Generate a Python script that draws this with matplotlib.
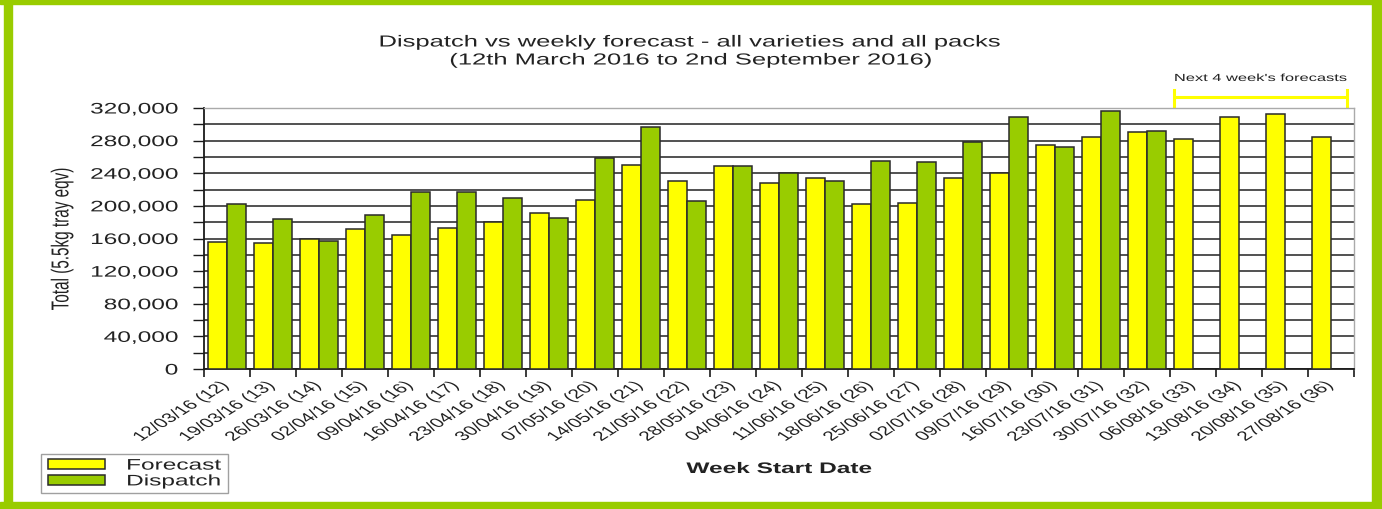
import matplotlib
matplotlib.use("Agg")
import matplotlib.pyplot as plt
from matplotlib.patches import Rectangle
from matplotlib.patheffects import AbstractPathEffect
from matplotlib.transforms import Affine2D
from matplotlib.ticker import MultipleLocator, FuncFormatter, FixedLocator
import numpy as np

weeks = ["12/03/16 (12)", "19/03/16 (13)", "26/03/16 (14)", "02/04/16 (15)", "09/04/16 (16)",
         "16/04/16 (17)", "23/04/16 (18)", "30/04/16 (19)", "07/05/16 (20)", "14/05/16 (21)",
         "21/05/16 (22)", "28/05/16 (23)", "04/06/16 (24)", "11/06/16 (25)", "18/06/16 (26)",
         "25/06/16 (27)", "02/07/16 (28)", "09/07/16 (29)", "16/07/16 (30)", "23/07/16 (31)",
         "30/07/16 (32)", "06/08/16 (33)", "13/08/16 (34)", "20/08/16 (35)", "27/08/16 (36)"]
forecast = [156000, 154500, 160000, 172000, 164700, 173300, 180600, 190900, 206800, 250100,
            230100, 248900, 228400, 234200, 202300, 203500, 234200, 239900, 274600, 284800,
            290900, 282000, 309300, 312600, 284800]
dispatch = [202300, 183500, 157300, 189200, 216600, 216600, 209700, 185100, 258300, 296300,
            206400, 248900, 239900, 230100, 254600, 253400, 277900, 309300, 271800, 316700,
            292200]

YELLOW = "#FFFF00"
GREEN = "#99CC00"
EDGE = "#2a2a2a"
TXT = "#222222"
SX = 1.6  # horizontal stretch of the original rendering


class HStretch(AbstractPathEffect):
    """Stretch the drawn path horizontally about a display x position."""
    def __init__(self, sx, cx):
        super().__init__()
        self.sx = sx
        self.cx = cx

    def draw_path(self, renderer, gc, tpath, affine, rgbFace=None):
        cx = self.cx() if callable(self.cx) else self.cx
        aff = affine + Affine2D().translate(-cx, 0).scale(self.sx, 1).translate(cx, 0)
        renderer.draw_path(gc, tpath, aff, rgbFace)


def stretch_text(t):
    t.set_path_effects([HStretch(SX, lambda t=t: t.get_transform().transform(
        t.get_unitless_position())[0])])


plt.rcParams['font.family'] = ['Liberation Sans', 'DejaVu Sans']

fig = plt.figure(figsize=(13.82, 5.10), dpi=100)
W, H = 1382, 510
ax = fig.add_axes([204 / W, 1 - 370 / H, 1150 / W, 261 / H])

x = np.arange(len(weeks))
bw = 0.42
ax.bar(x - 0.21, forecast, width=bw, color=YELLOW, edgecolor=EDGE, linewidth=1.1,
       label="Forecast", zorder=3)
xd = np.arange(len(dispatch))
ax.bar(xd + 0.21, dispatch, width=bw, color=GREEN, edgecolor=EDGE, linewidth=1.1,
       label="Dispatch", zorder=3)

ax.set_xlim(-0.5, len(weeks) - 0.5)
ax.set_ylim(0, 320000)

ax.yaxis.set_major_locator(MultipleLocator(40000))
ax.yaxis.set_minor_locator(MultipleLocator(20000))
ax.yaxis.set_major_formatter(FuncFormatter(lambda v, p: f"{int(v):,}"))
ax.grid(True, axis='y', which='both', color="#222222", linewidth=1.1, zorder=0)
ax.tick_params(axis='y', which='both', length=8, width=1, color="#1a1a1a", pad=10.5,
               labelsize=11, labelcolor=TXT, direction='out')

ax.xaxis.set_major_locator(FixedLocator(np.arange(-0.5, len(weeks), 1.0)))
ax.xaxis.set_major_formatter(FuncFormatter(lambda v, p: ""))
ax.xaxis.set_minor_locator(FixedLocator(x))
ax.set_xticklabels(weeks, minor=True, rotation=45, ha='right', va='center',
                   rotation_mode='anchor', fontsize=9.5, color=TXT)
ax.tick_params(axis='x', which='major', length=6, width=1.2, color="#1a1a1a", direction='out')
ax.tick_params(axis='x', which='minor', length=0, pad=10.5)

for s in ['left', 'bottom']:
    ax.spines[s].set_color("#1a1a1a")
    ax.spines[s].set_linewidth(1.3)
for s in ['top', 'right']:
    ax.spines[s].set_color("#aaaaaa")
    ax.spines[s].set_linewidth(1.0)
ax.set_axisbelow(True)

texts = []
texts.append(fig.text(0.5, 1 - 43 / H, "Dispatch vs weekly forecast - all varieties and all packs",
                      ha='center', va='center', fontsize=11.5, color=TXT))
texts.append(fig.text(0.5, 1 - 61 / H, "(12th March 2016 to 2nd September 2016)",
                      ha='center', va='center', fontsize=11.5, color=TXT))
texts.append(fig.text(779 / W, 1 - 470 / H, "Week Start Date", ha='center', va='center',
                      fontsize=11, fontweight='bold', color=TXT))
texts.append(fig.text(62 / W, 1 - 240 / H, "Total (5.5kg tray eqv)", ha='center', va='center',
                      rotation=90, fontsize=11, color=TXT))

# Next 4 weeks bracket
tr = ax.get_xaxis_transform()
x0, x1 = 20.59, 24.35
ax.plot([x0, x1], [1.042, 1.042], color=YELLOW, lw=2.2, transform=tr, clip_on=False,
        solid_capstyle='butt')
ax.plot([x0, x0], [1.008, 1.068], color=YELLOW, lw=2.2, transform=tr, clip_on=False)
ax.plot([x1, x1], [1.008, 1.068], color=YELLOW, lw=2.2, transform=tr, clip_on=False)
texts.append(ax.text((x0 + x1) / 2, 1.115, "Next 4 week's forecasts", transform=tr,
                     ha='center', va='center', fontsize=7.4, color=TXT))

LEG_X = 41
leg = fig.legend(loc='lower left', bbox_to_anchor=(LEG_X / W, 1 - 494 / H), frameon=True,
                 fancybox=False, edgecolor="#888888", fontsize=11, handlelength=2.33,
                 handleheight=0.62, handletextpad=0.85, borderpad=0.3, labelspacing=0.12,
                 borderaxespad=0)
leg.get_frame().set_linewidth(1.0)
leg_eff = [HStretch(SX, LEG_X)]
leg.get_frame().set_path_effects(leg_eff)
for t in leg.get_texts():
    t.set_color(TXT)
    t.set_path_effects(leg_eff)
for h in leg.legend_handles:
    h.set_path_effects(leg_eff)

# green frame
fig.patches.append(Rectangle((0, 1 - 5 / H), 1, 5 / H, transform=fig.transFigure,
                             color=GREEN, zorder=0))
fig.patches.append(Rectangle((0, 0), 1, 7 / H, transform=fig.transFigure,
                             color=GREEN, zorder=0))
fig.patches.append(Rectangle((4 / W, 0), 8 / W, 1, transform=fig.transFigure,
                             color=GREEN, zorder=0))
fig.patches.append(Rectangle((1 - 10 / W, 0), 10 / W, 1, transform=fig.transFigure,
                             color=GREEN, zorder=0))

fig.canvas.draw()
for t in texts:
    stretch_text(t)
for t in ax.get_xticklabels(minor=True) + ax.get_yticklabels():
    stretch_text(t)

fig.savefig("out.png", dpi=100)
